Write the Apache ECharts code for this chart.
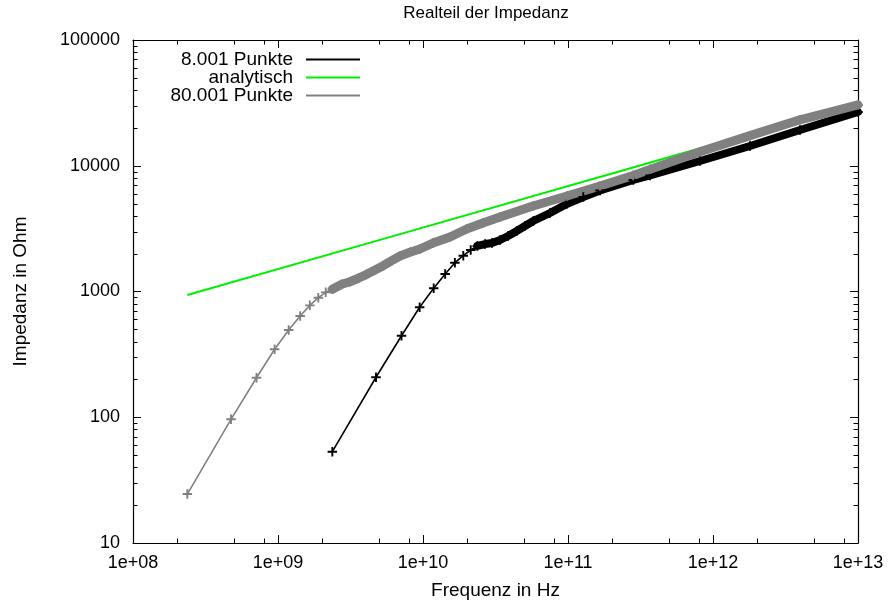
<!DOCTYPE html>
<html><head><meta charset="utf-8">
<script src="https://cdn.jsdelivr.net/npm/echarts@6/dist/echarts.min.js"></script>
<style>html,body{margin:0;padding:0;background:#fff}#c{width:892px;height:605px}</style>
</head><body><div id="c"></div>
<script>
// tick labels
const xTickLabels = ['1e+08','1e+09','1e+10','1e+11','1e+12','1e+13'];
const yTickLabels = ['10','100','1000','10000','100000'];
const xMinorTicks = [2e8,5e8,8e8,2e9,5e9,8e9,2e10,5e10,8e10,2e11,5e11,8e11,2e12,5e12,8e12];
const yMinorTicks = [20,30,40,50,60,70,80,90,200,300,400,500,600,700,800,900,
  2000,3000,4000,5000,6000,7000,8000,9000,20000,30000,40000,50000,60000,70000,80000,90000];

// 8.001 Punkte
const blackF = [2.37e9,4.74e9,7.11e9,9.48e9,1.185e10,1.422e10,1.659e10,1.896e10,2.133e10,2.37e10,
  2.68e10,2.99e10,3.40e10,3.86e10,4.43e10,5.05e10,5.76e10,7.51e10,9.79e10,1.275e11,1.663e11,
  2.82e11,3.68e11,8.14e11,1.80e12,3.98e12,1e13];
const blackZ = [53.2,208,445,749,1060,1377,1694,1926,2138,2301,
  2386,2431,2568,2763,3027,3318,3636,4210,4964,5643,6358,
  7704,8365,10910,14360,19250,26760];
const blackBandStart = 9;

// analytisch
const greenF = [2.37e8,6.94e9,2.28e11,1e13];
const greenZ = [938,2860,9050,31600];

// 80.001 Punkte
const grayF = [2.37e8,4.74e8,7.11e8,9.48e8,1.185e9,1.422e9,1.659e9,1.896e9,2.133e9,2.37e9,
  2.75e9,3.14e9,3.58e9,4.09e9,4.67e9,5.32e9,6.08e9,6.94e9,8.13e9,9.53e9,1.172e10,1.536e10,
  2.0e10,2.59e10,3.40e10,5.74e10,9.84e10,1.663e11,2.81e11,3.68e11,8.14e11,1.80e12,3.98e12,1e13];
const grayZ = [24.5,96.3,206,347,494,638,776,893,985,1041,
  1141,1196,1274,1370,1483,1604,1758,1916,2050,2178,2431,2713,
  3140,3504,3912,4786,5746,6902,8365,9360,12930,17360,23190,30450];
const grayBandStart = 9;

const plus = 'path://M-1,-0.2 L-0.2,-0.2 L-0.2,-1 L0.2,-1 L0.2,-0.2 L1,-0.2 L1,0.2 L0.2,0.2 L0.2,1 L-0.2,1 L-0.2,0.2 L-1,0.2 Z';
const legendIcon = 'path://M0,0 M8,6 L62,6 L62,8 L8,8 Z M62,14';
const FONT = 'Liberation Sans, Arial, sans-serif';

const zip = (a, b) => a.map((v, i) => [v, b[i]]);
const blackData = zip(blackF, blackZ);
const grayData = zip(grayF, grayZ);
const greenData = zip(greenF, greenZ);

function xLabel(v) { return xTickLabels[Math.round(Math.log10(v)) - 8] || ''; }
function yLabel(v) { return yTickLabels[Math.round(Math.log10(v)) - 1] || ''; }

const baseAxis = {
  type: 'log', logBase: 10,
  axisLine: { show: true, onZero: false, lineStyle: { color: '#000', width: 1.2 } },
  axisTick: { show: true, inside: true, length: 8, lineStyle: { color: '#000', width: 1 } },
  splitLine: { show: false },
  minorTick: { show: false },
};

const chart = echarts.init(document.getElementById('c'), null, { renderer: 'canvas' });
chart.setOption({
  animation: false,
  backgroundColor: '#fff',
  textStyle: { fontFamily: FONT },
  title: {
    text: 'Realteil der Impedanz', left: 486, top: 5, textAlign: 'center', padding: 0,
    textStyle: { fontSize: 17, fontWeight: 'normal', color: '#000', fontFamily: FONT }
  },
  legend: {
    data: ['8.001 Punkte', 'analytisch', '80.001 Punkte'],
    orient: 'vertical', align: 'right', right: 532, top: 50, padding: 0,
    itemWidth: 62, itemHeight: 14, itemGap: -1, icon: legendIcon,
    selectedMode: false,
    textStyle: { fontSize: 19, lineHeight: 18, color: '#000', fontFamily: FONT }
  },
  grid: { left: 133, right: 34, top: 40, bottom: 62, containLabel: false },
  xAxis: [
    Object.assign({}, baseAxis, {
      min: 1e8, max: 1e13, position: 'bottom',
      name: 'Frequenz in Hz', nameLocation: 'middle', nameGap: 38,
      nameTextStyle: { fontSize: 19, color: '#000', fontFamily: FONT },
      axisLabel: { show: true, margin: 11, fontSize: 18, color: '#000', fontFamily: FONT, formatter: xLabel }
    }),
    Object.assign({}, baseAxis, {
      min: 1e8, max: 1e13, position: 'top', axisLabel: { show: false }
    })
  ],
  yAxis: [
    Object.assign({}, baseAxis, {
      min: 10, max: 100000, position: 'left',
      name: 'Impedanz in Ohm', nameLocation: 'middle', nameGap: 103,
      nameTextStyle: { fontSize: 19, color: '#000', fontFamily: FONT },
      axisLabel: { show: true, margin: 13, fontSize: 18, color: '#000', fontFamily: FONT, formatter: yLabel }
    }),
    Object.assign({}, baseAxis, {
      min: 10, max: 100000, position: 'right', axisLabel: { show: false }
    })
  ],
  series: [
    { name: '8.001 Punkte', type: 'line', data: blackData.slice(blackBandStart),
      symbol: 'none', itemStyle: { color: '#000' }, lineStyle: { color: '#000', width: 8, join: 'round', cap: 'round' } },
    { name: '8.001 Punkte', type: 'line', data: blackData,
      symbol: plus, symbolSize: 9.5, showAllSymbol: true,
      itemStyle: { color: '#000' }, lineStyle: { color: '#000', width: 1.6 } },
    { name: 'analytisch', type: 'line', data: greenData, symbol: 'none',
      itemStyle: { color: '#00ee00' }, lineStyle: { color: '#00ee00', width: 2 } },
    { name: '80.001 Punkte', type: 'line', data: grayData.slice(grayBandStart),
      symbol: 'none', itemStyle: { color: '#808080' }, lineStyle: { color: '#808080', width: 9, join: 'round', cap: 'round' } },
    { name: '80.001 Punkte', type: 'line', data: grayData,
      symbol: plus, symbolSize: 9.5, showAllSymbol: true,
      itemStyle: { color: '#808080' }, lineStyle: { color: '#808080', width: 1.6 } },
    { type: 'custom', name: 'xminor', silent: true, clip: false,
      data: xMinorTicks.map(v => [v, 10]),
      renderItem: function (params, api) {
        const v = api.value(0);
        const b = api.coord([v, 10]);
        const t = api.coord([v, 100000]);
        const x = Math.round(b[0]) + 0.5;
        return { type: 'group', children: [
          { type: 'line', shape: { x1: x, y1: b[1], x2: x, y2: b[1] - 4.5 }, style: { stroke: '#000', lineWidth: 1 } },
          { type: 'line', shape: { x1: x, y1: t[1], x2: x, y2: t[1] + 4.5 }, style: { stroke: '#000', lineWidth: 1 } }
        ] };
      } },
    { type: 'custom', name: 'yminor', silent: true, clip: false,
      data: yMinorTicks.map(v => [1e8, v]),
      renderItem: function (params, api) {
        const v = api.value(1);
        const l = api.coord([1e8, v]);
        const r = api.coord([1e13, v]);
        const y = Math.round(l[1]) + 0.5;
        return { type: 'group', children: [
          { type: 'line', shape: { x1: l[0], y1: y, x2: l[0] + 4.5, y2: y }, style: { stroke: '#000', lineWidth: 1 } },
          { type: 'line', shape: { x1: r[0], y1: y, x2: r[0] - 4.5, y2: y }, style: { stroke: '#000', lineWidth: 1 } }
        ] };
      } }
  ]
});
</script>
</body></html>
